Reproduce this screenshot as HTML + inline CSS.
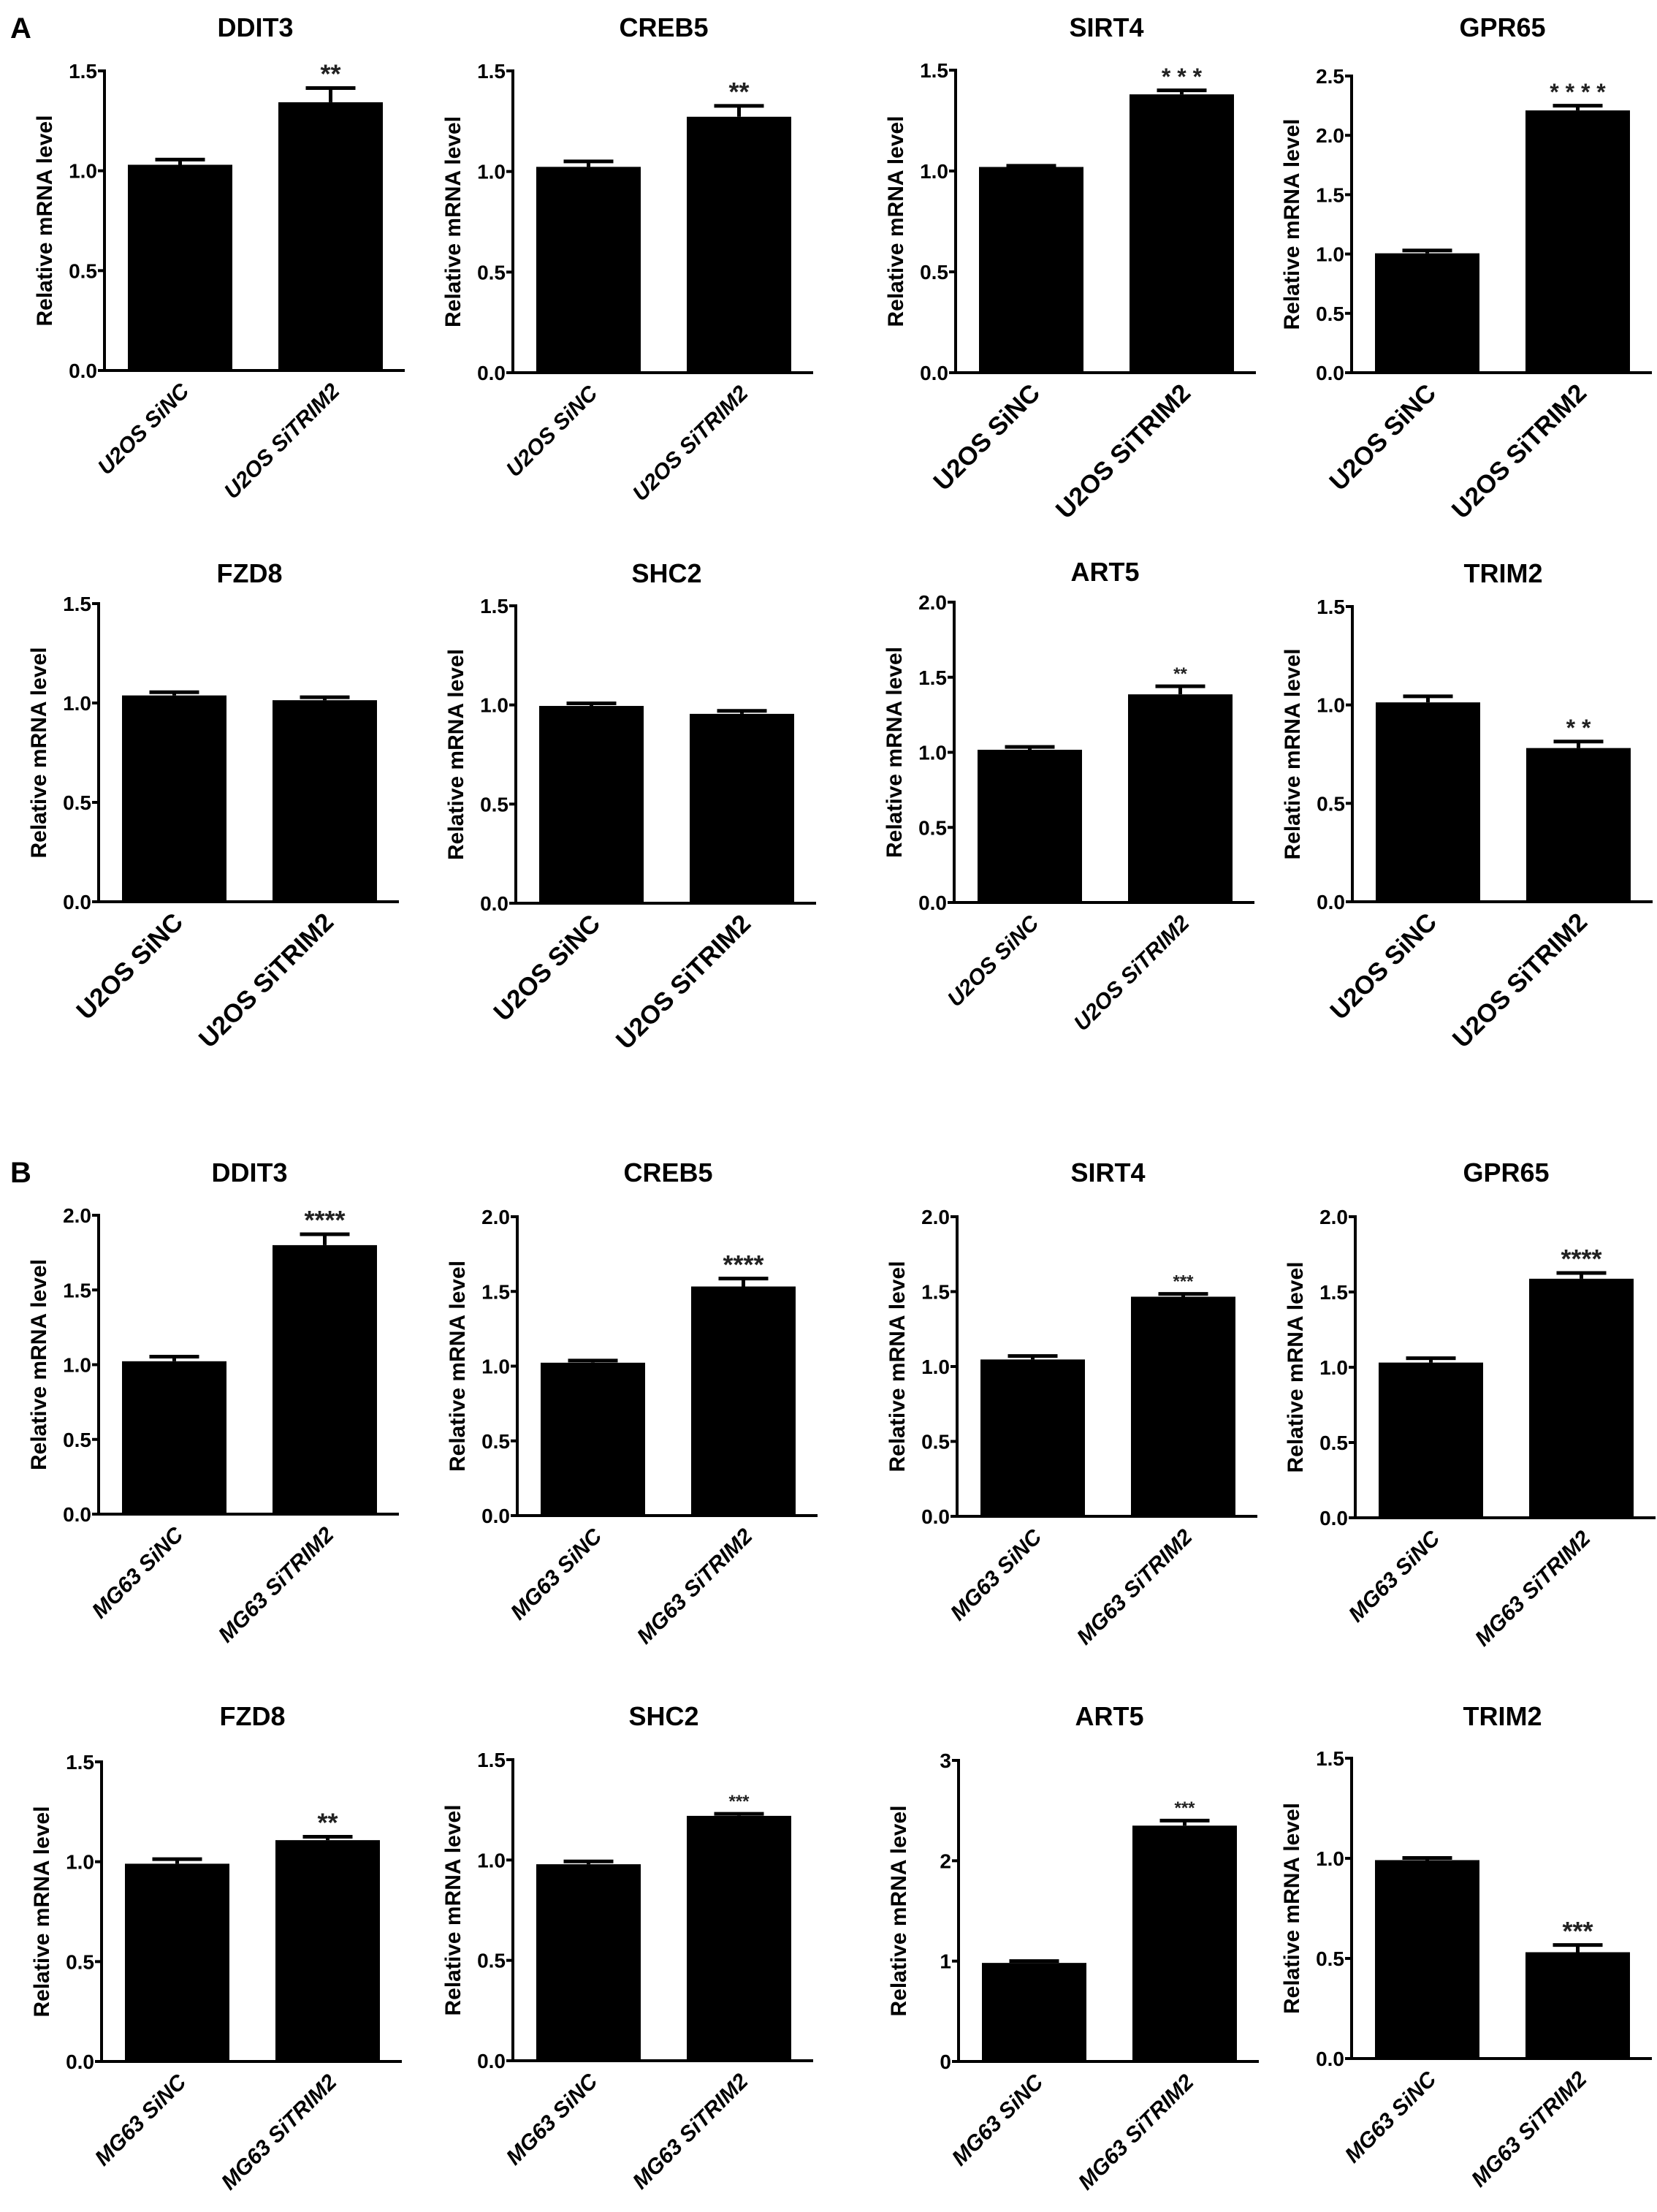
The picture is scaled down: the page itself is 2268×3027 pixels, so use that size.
<!DOCTYPE html>
<html><head><meta charset="utf-8">
<style>
html,body{margin:0;padding:0;background:#fff;}
svg{display:block;font-family:"Liberation Sans",Arial,sans-serif;}
</style></head>
<body>
<svg id="fig" width="2268" height="3027" viewBox="0 0 2268 3027" xmlns="http://www.w3.org/2000/svg">
<rect width="2268" height="3027" fill="#fff"/>
<text x="14" y="52" font-size="40" font-weight="bold">A</text>
<text x="14" y="1618" font-size="40" font-weight="bold">B</text>
</svg>
<script>
// ---- data ----
const genes = ["DDIT3","CREB5","SIRT4","GPR65","FZD8","SHC2","ART5","TRIM2","DDIT3","CREB5","SIRT4","GPR65","FZD8","SHC2","ART5","TRIM2"];
const cellLine = ["U2OS","U2OS","U2OS","U2OS","U2OS","U2OS","U2OS","U2OS","MG63","MG63","MG63","MG63","MG63","MG63","MG63","MG63"];
const ctrlValues = [1.03,1.023,1.02,1.006,1.038,0.995,1.017,1.013,1.023,1.023,1.047,1.031,0.99,0.979,0.982,0.991];
const ctrlErr = [0.026,0.027,0.006,0.024,0.016,0.013,0.019,0.031,0.031,0.014,0.023,0.029,0.023,0.014,0.018,0.011];
const treatValues = [1.343,1.272,1.38,2.21,1.014,0.955,1.386,0.781,1.80,1.533,1.466,1.588,1.108,1.22,2.35,0.531];
const treatErr = [0.071,0.054,0.02,0.04,0.015,0.015,0.054,0.033,0.073,0.053,0.019,0.038,0.017,0.01,0.05,0.036];
const yMaxes = [1.5,1.5,1.5,2.5,1.5,1.5,2.0,1.5,2.0,2.0,2.0,2.0,1.5,1.5,3,1.5];
const tickSteps = [0.5,0.5,0.5,0.5,0.5,0.5,0.5,0.5,0.5,0.5,0.5,0.5,0.5,0.5,1,0.5];
const tickDecimals = [1,1,1,1,1,1,1,1,1,1,1,1,1,1,0,1];
const stars = ["**","**","* * *","* * * *","","","**","* *","****","****","***","****","**","***","***","***"];

// ---- layout (pixel positions, not data) ----
const axisXs = [143,702,1308,1850,135,706,1306,1851,135,708,1310,1855,139,702,1312,1850];
const axisTops = [97,97,96,104,826,829,824,830,1663,1665,1665,1665,2411,2408,2409,2406];
const axisZeros = [507,510,510,510,1234,1236,1235,1234,2072,2074,2075,2077,2821,2820,2821,2817];
const titleYs = [50,50,50,50,797,797,795,797,1617,1617,1617,1617,2361,2361,2361,2361];
const starSizes = [36,36,32,32,36,36,24,32,36,36,24,36,36,24,24,36];
const bigLabel = [0,0,1,1,1,1,0,1,0,0,0,0,0,0,0,0];

const NS = "http://www.w3.org/2000/svg";
const svg = document.getElementById("fig");
function mk(tag, attrs, parent){
  const e = document.createElementNS(NS, tag);
  for (const k in attrs) e.setAttribute(k, attrs[k]);
  (parent||svg).appendChild(e);
  return e;
}

for (let i = 0; i < genes.length; i++) {
  const ax = axisXs[i], top = axisTops[i], zero = axisZeros[i];
  const yScale = v => zero - (v / yMaxes[i]) * (zero - top);
  const b1 = ax + 32, b2 = ax + 238, bw = 143, axEnd = ax + 411;
  const g = mk("g", {});
  
  

  const t = mk("text", {x: (b1 + b2 + bw) / 2, y: titleYs[i], "text-anchor": "middle", "font-size": 36, "font-weight": "bold"}, g);
  t.textContent = genes[i];
  
  

  const yl = mk("text", {x: 0, y: 0, "text-anchor": "middle", "font-size": 30, "font-weight": "bold",
    transform: "translate(" + (ax - 72) + "," + ((top + zero) / 2) + ") rotate(-90)"}, g);
  yl.textContent = "Relative mRNA  level";
  
  

  const vals = [ctrlValues[i], treatValues[i]];
  const errs = [ctrlErr[i], treatErr[i]];
  const xs = [b1, b2];
  for (let k = 0; k < 2; k++) {
    const yv = yScale(vals[k]);
    const r = mk("rect", {x: xs[k], y: yv, width: bw, height: zero - yv, fill: "#000"}, g);
    
    
    const ye = yScale(vals[k] + errs[k]);
    const cx = xs[k] + bw / 2;
    const el = mk("path", {d: "M" + cx + " " + yv + "V" + ye + "M" + (cx - 34) + " " + ye + "H" + (cx + 34), stroke: "#000", "stroke-width": 5, fill: "none"}, g);
    
    
    const lbl = mk("text", {x: 0, y: 0, "text-anchor": "end", "font-size": bigLabel[i] ? 35 : 30, "font-weight": "bold", "font-style": bigLabel[i] ? "normal" : "italic",
      transform: "translate(" + (cx + 14) + "," + (zero + 30) + ") rotate(-45)"}, g);
    lbl.textContent = cellLine[i] + (k === 0 ? " SiNC" : " SiTRIM2");
    
    
  }
  if (stars[i]) {
    const yt = yScale(treatValues[i] + treatErr[i]);
    const s = mk("text", {x: b2 + bw / 2, y: yt - 14 + starSizes[i] * 0.2, "text-anchor": "middle", "font-size": starSizes[i], "font-weight": "bold", fill: "#222"}, g);
    s.textContent = stars[i];
    
    
  }
  const axes = mk("path", {d: "M" + ax + " " + (top - 2) + "V" + zero + "H" + axEnd, stroke: "#000", "stroke-width": 4, fill: "none"}, g);
  
  
  const nT = Math.round(yMaxes[i] / tickSteps[i]);
  for (let j = 0; j <= nT; j++) {
    const v = j * tickSteps[i];
    const yy = yScale(v);
    const tk = mk("line", {x1: ax - 9, x2: ax, y1: yy, y2: yy, stroke: "#000", "stroke-width": 4}, g);
    
    
    const tl = mk("text", {x: ax - 10, y: yy + 10, "text-anchor": "end", "font-size": 28, "font-weight": "bold"}, g);
    tl.textContent = v.toFixed(tickDecimals[i]);
    
    
  }
}
</script>
</body></html>
